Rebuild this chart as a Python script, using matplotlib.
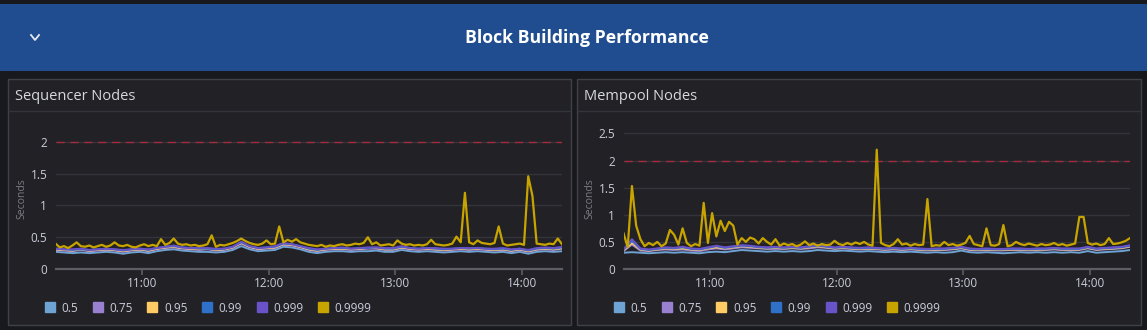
import numpy as np
import matplotlib.pyplot as plt
import matplotlib.dates as mdates
from matplotlib.lines import Line2D
from matplotlib.patches import Rectangle

plt.rcParams['font.family'] = ['Open Sans', 'DejaVu Sans']

# ---- data ----
start = np.datetime64('2024-05-01T10:19')
minutes_fine = np.arange(0, 241, 2)     # 0.9999 series, every 2 min
minutes_coarse = np.arange(0, 241, 4)   # lower quantiles, every 4 min

quantiles = ['0.5', '0.75', '0.95', '0.99', '0.999', '0.9999']
colors = ['#6fa3d3', '#9a80d0', '#ffcb65', '#2f70c8', '#6a52c8', '#c8a400']

seq_p50 = [0.27, 0.26, 0.25, 0.26, 0.25, 0.26, 0.27, 0.26, 0.24, 0.26,
           0.27, 0.25, 0.28, 0.30, 0.31, 0.29, 0.28, 0.27, 0.27, 0.26,
           0.27, 0.30, 0.36, 0.31, 0.28, 0.29, 0.30, 0.35, 0.34, 0.31,
           0.27, 0.25, 0.27, 0.28, 0.28, 0.27, 0.28, 0.28, 0.29, 0.27,
           0.27, 0.30, 0.28, 0.27, 0.28, 0.27, 0.26, 0.27, 0.28, 0.27,
           0.28, 0.27, 0.26, 0.27, 0.25, 0.27, 0.24, 0.27, 0.28, 0.27,
           0.28]
seq_p75 = [0.30, 0.29, 0.28, 0.30, 0.28, 0.29, 0.30, 0.29, 0.27, 0.29,
           0.30, 0.28, 0.31, 0.33, 0.34, 0.32, 0.31, 0.30, 0.31, 0.29,
           0.30, 0.33, 0.40, 0.34, 0.31, 0.32, 0.33, 0.38, 0.37, 0.34,
           0.30, 0.28, 0.30, 0.31, 0.31, 0.30, 0.31, 0.32, 0.32, 0.30,
           0.30, 0.33, 0.31, 0.30, 0.31, 0.30, 0.29, 0.30, 0.31, 0.30,
           0.31, 0.30, 0.29, 0.30, 0.28, 0.30, 0.27, 0.30, 0.31, 0.30,
           0.32]
seq_p95 = [0.31, 0.30, 0.29, 0.31, 0.29, 0.30, 0.31, 0.30, 0.28, 0.30,
           0.31, 0.29, 0.32, 0.34, 0.35, 0.33, 0.32, 0.31, 0.32, 0.30,
           0.31, 0.34, 0.41, 0.35, 0.32, 0.33, 0.34, 0.39, 0.38, 0.35,
           0.31, 0.29, 0.31, 0.32, 0.32, 0.31, 0.32, 0.33, 0.33, 0.31,
           0.31, 0.34, 0.32, 0.31, 0.32, 0.31, 0.30, 0.31, 0.32, 0.31,
           0.32, 0.31, 0.30, 0.31, 0.29, 0.31, 0.28, 0.31, 0.32, 0.31,
           0.33]
seq_p99 = [0.32, 0.31, 0.30, 0.31, 0.30, 0.31, 0.32, 0.31, 0.29, 0.31,
           0.32, 0.30, 0.33, 0.35, 0.36, 0.34, 0.33, 0.32, 0.32, 0.31,
           0.32, 0.35, 0.42, 0.36, 0.33, 0.34, 0.35, 0.40, 0.39, 0.36,
           0.32, 0.30, 0.32, 0.33, 0.33, 0.32, 0.33, 0.33, 0.34, 0.32,
           0.32, 0.35, 0.33, 0.32, 0.33, 0.32, 0.31, 0.32, 0.33, 0.32,
           0.33, 0.32, 0.31, 0.32, 0.30, 0.32, 0.29, 0.32, 0.33, 0.32,
           0.34]
seq_p999 = [0.32, 0.31, 0.31, 0.32, 0.30, 0.31, 0.32, 0.31, 0.30, 0.31,
            0.32, 0.31, 0.33, 0.35, 0.37, 0.34, 0.33, 0.33, 0.33, 0.32,
            0.32, 0.35, 0.43, 0.36, 0.33, 0.34, 0.36, 0.41, 0.39, 0.36,
            0.33, 0.31, 0.32, 0.33, 0.34, 0.32, 0.33, 0.34, 0.34, 0.33,
            0.33, 0.36, 0.33, 0.32, 0.33, 0.33, 0.32, 0.32, 0.33, 0.33,
            0.33, 0.32, 0.32, 0.33, 0.31, 0.32, 0.30, 0.33, 0.34, 0.33,
            0.35]
seq_p9999 = [0.40, 0.34, 0.36, 0.33, 0.37, 0.42, 0.36, 0.35, 0.37, 0.34,   # 0-18
             0.36, 0.38, 0.35, 0.37, 0.42, 0.37, 0.36, 0.38, 0.35, 0.34,   # 20-38
             0.37, 0.39, 0.36, 0.38, 0.36, 0.47, 0.38, 0.41, 0.48, 0.40,   # 40-58
             0.38, 0.39, 0.37, 0.38, 0.36, 0.37, 0.39, 0.53, 0.35, 0.38,   # 60-78
             0.37, 0.39, 0.41, 0.44, 0.48, 0.44, 0.41, 0.39, 0.38, 0.40,   # 80-98
             0.45, 0.39, 0.40, 0.67, 0.42, 0.46, 0.43, 0.47, 0.42, 0.40,   # 100-118
             0.38, 0.37, 0.36, 0.38, 0.35, 0.37, 0.36, 0.38, 0.39, 0.37,   # 120-138
             0.38, 0.40, 0.39, 0.41, 0.50, 0.39, 0.42, 0.37, 0.38, 0.39,   # 140-158
             0.37, 0.45, 0.40, 0.38, 0.39, 0.37, 0.38, 0.37, 0.39, 0.46,   # 160-178
             0.39, 0.38, 0.37, 0.38, 0.40, 0.51, 0.42, 1.20, 0.42, 0.39,   # 180-198
             0.45, 0.41, 0.40, 0.39, 0.41, 0.67, 0.40, 0.37, 0.38, 0.39,   # 200-218
             0.40, 0.38, 1.46, 1.15, 0.40, 0.39, 0.38, 0.40, 0.39, 0.48,   # 220-238
             0.39]                                                         # 240

mem_p50 = [0.30, 0.31, 0.30, 0.29, 0.30, 0.31, 0.30, 0.31, 0.30, 0.29,
           0.31, 0.32, 0.31, 0.33, 0.35, 0.34, 0.33, 0.32, 0.33, 0.32,
           0.33, 0.32, 0.33, 0.35, 0.34, 0.33, 0.34, 0.33, 0.32, 0.33,
           0.32, 0.31, 0.32, 0.31, 0.32, 0.31, 0.30, 0.31, 0.30, 0.31,
           0.34, 0.31, 0.30, 0.31, 0.30, 0.29, 0.30, 0.31, 0.30, 0.31,
           0.30, 0.31, 0.30, 0.31, 0.30, 0.33, 0.30, 0.31, 0.32, 0.33,
           0.35]
mem_p75 = [0.33, 0.45, 0.34, 0.33, 0.35, 0.36, 0.35, 0.36, 0.34, 0.33,
           0.36, 0.38, 0.36, 0.38, 0.40, 0.39, 0.38, 0.37, 0.37, 0.37,
           0.38, 0.37, 0.38, 0.40, 0.39, 0.37, 0.38, 0.37, 0.36, 0.37,
           0.36, 0.35, 0.36, 0.35, 0.36, 0.35, 0.34, 0.35, 0.35, 0.36,
           0.38, 0.35, 0.34, 0.35, 0.34, 0.34, 0.35, 0.35, 0.34, 0.35,
           0.35, 0.36, 0.35, 0.35, 0.35, 0.38, 0.35, 0.36, 0.37, 0.38,
           0.41]
mem_p95 = [0.34, 0.48, 0.36, 0.34, 0.36, 0.38, 0.37, 0.38, 0.36, 0.35,
           0.38, 0.40, 0.38, 0.40, 0.42, 0.41, 0.39, 0.38, 0.39, 0.38,
           0.39, 0.38, 0.40, 0.42, 0.40, 0.38, 0.39, 0.38, 0.37, 0.38,
           0.37, 0.36, 0.37, 0.36, 0.37, 0.36, 0.35, 0.36, 0.36, 0.37,
           0.39, 0.36, 0.35, 0.36, 0.35, 0.35, 0.36, 0.36, 0.35, 0.36,
           0.36, 0.37, 0.36, 0.36, 0.36, 0.39, 0.36, 0.37, 0.38, 0.39,
           0.42]
mem_p99 = [0.35, 0.52, 0.37, 0.35, 0.37, 0.39, 0.38, 0.40, 0.37, 0.36,
           0.39, 0.42, 0.39, 0.41, 0.43, 0.42, 0.40, 0.39, 0.40, 0.39,
           0.40, 0.39, 0.41, 0.43, 0.41, 0.39, 0.40, 0.39, 0.38, 0.39,
           0.38, 0.37, 0.38, 0.37, 0.38, 0.37, 0.36, 0.37, 0.37, 0.38,
           0.40, 0.37, 0.36, 0.37, 0.36, 0.36, 0.37, 0.37, 0.36, 0.37,
           0.37, 0.38, 0.37, 0.37, 0.37, 0.40, 0.37, 0.38, 0.39, 0.40,
           0.43]
mem_p999 = [0.36, 0.55, 0.38, 0.36, 0.38, 0.40, 0.39, 0.41, 0.38, 0.37,
            0.40, 0.43, 0.40, 0.42, 0.44, 0.43, 0.41, 0.40, 0.41, 0.40,
            0.41, 0.40, 0.42, 0.44, 0.42, 0.40, 0.41, 0.40, 0.39, 0.40,
            0.39, 0.38, 0.39, 0.38, 0.39, 0.38, 0.37, 0.38, 0.38, 0.39,
            0.41, 0.38, 0.37, 0.38, 0.37, 0.37, 0.38, 0.38, 0.37, 0.38,
            0.38, 0.39, 0.38, 0.38, 0.38, 0.41, 0.38, 0.39, 0.40, 0.41,
            0.44]
mem_p9999 = [0.66, 0.40, 1.53, 0.80, 0.55, 0.42, 0.48, 0.44, 0.50, 0.42,   # 0-18
             0.47, 0.72, 0.63, 0.45, 0.75, 0.48, 0.42, 0.46, 0.43, 1.22,   # 20-38
             0.48, 1.03, 0.60, 0.89, 0.70, 0.87, 0.80, 0.45, 0.57, 0.50,   # 40-58
             0.58, 0.55, 0.47, 0.57, 0.50, 0.45, 0.55, 0.43, 0.47, 0.44,   # 60-78
             0.46, 0.42, 0.45, 0.51, 0.44, 0.47, 0.43, 0.46, 0.44, 0.45,   # 80-98
             0.52, 0.46, 0.44, 0.48, 0.45, 0.49, 0.46, 0.50, 0.45, 0.43,   # 100-118
             2.20, 0.48, 0.44, 0.42, 0.46, 0.55, 0.45, 0.47, 0.43, 0.46,   # 120-138
             0.44, 0.45, 1.29, 0.42, 0.44, 0.43, 0.50, 0.44, 0.46, 0.43,   # 140-158
             0.45, 0.48, 0.61, 0.46, 0.44, 0.42, 0.75, 0.44, 0.43, 0.46,   # 160-178
             0.81, 0.42, 0.44, 0.50, 0.46, 0.44, 0.47, 0.45, 0.43, 0.46,   # 180-198
             0.44, 0.45, 0.48, 0.44, 0.46, 0.43, 0.45, 0.47, 0.96, 0.96,   # 200-218
             0.48, 0.45, 0.47, 0.44, 0.46, 0.57, 0.46, 0.47, 0.49, 0.52,   # 220-238
             0.57]                                                         # 240

panels = [
    ('Sequencer Nodes', [seq_p50, seq_p75, seq_p95, seq_p99, seq_p999, seq_p9999], 2.22, [0, 0.5, 1, 1.5, 2]),
    ('Mempool Nodes', [mem_p50, mem_p75, mem_p95, mem_p99, mem_p999, mem_p9999], 2.6, [0, 0.5, 1, 1.5, 2, 2.5]),
]
threshold = 2

# ---- styling ----
W, H = 1147, 330
BG = '#18191d'
PANEL = '#212126'
HEADER = '#1f4d8f'
TXT = '#ccccdc'


def fx(px):
    return px / W


def fy(py):
    return 1 - py / H


fig = plt.figure(figsize=(W / 100, H / 100), dpi=100, facecolor=BG)

# header band
fig.patches.append(Rectangle((0, fy(71)), 1, (71 - 4) / H, transform=fig.transFigure,
                             facecolor=HEADER, edgecolor='none', zorder=-5))
fig.text(fx(587), fy(38), 'Block Building Performance', ha='center', va='center',
         color='white', fontsize=12.7, fontweight='bold')
fig.lines.append(Line2D([fx(31), fx(35), fx(39)], [fy(35), fy(40), fy(35)],
                        transform=fig.transFigure, color='#e8e8f0', lw=1.3))

t_fine = start + minutes_fine.astype('timedelta64[m]')
t_coarse = start + minutes_coarse.astype('timedelta64[m]')

panel_x = [(8, 571), (577, 1141)]
axes_x = [(55.5, 562), (623.5, 1130)]

for (title, series, ytop, yticks), (px0, px1), (ax0, ax1) in zip(panels, panel_x, axes_x):
    fig.patches.append(Rectangle((fx(px0), fy(325)), (px1 - px0) / W, (325 - 79) / H,
                                 transform=fig.transFigure, facecolor=PANEL,
                                 edgecolor='#404148', lw=1, zorder=-4))
    fig.lines.append(Line2D([fx(px0 + 1), fx(px1 - 1)], [fy(111), fy(111)],
                            transform=fig.transFigure, color='#34353b', lw=1))
    fig.text(fx(px0 + 7), fy(97), title, ha='left', va='center', color='#d8d9da', fontsize=10.5)

    ax = fig.add_axes([fx(ax0), fy(269), (ax1 - ax0) / W, (269 - 128) / H])
    ax.set_facecolor('none')
    for i, (vals, q, c) in enumerate(zip(series, quantiles, colors)):
        t = t_fine if i == len(series) - 1 else t_coarse
        ax.plot(t, vals, color=c, lw=1.6 if i == len(series) - 1 else 1.4, label=q,
                zorder=3 + i)
    ax.axhline(threshold, color='#a52a3c', lw=1, ls=(0, (6, 4)), zorder=2)

    ax.set_xlim(t_fine[0], t_fine[-1])
    ax.set_ylim(0, ytop)
    ax.set_yticks(yticks)
    ax.set_yticklabels([f'{v:g}' for v in yticks])
    ax.xaxis.set_major_locator(mdates.HourLocator())
    ax.xaxis.set_major_formatter(mdates.DateFormatter('%H:%M'))
    ax.grid(axis='y', color='#34353b', lw=1, zorder=1)
    ax.grid(axis='x', visible=False)
    for s in ['top', 'right', 'left']:
        ax.spines[s].set_visible(False)
    ax.spines['bottom'].set_color('#5d5e64')
    ax.spines['bottom'].set_linewidth(1.6)
    ax.tick_params(axis='x', colors='#5d5e64', length=4, width=1.2, labelcolor=TXT, labelsize=8.5, pad=2)
    ax.tick_params(axis='y', length=0, labelcolor=TXT, labelsize=8.5, pad=6)
    ax.set_ylabel('Seconds', color='#7b7c82', fontsize=7.5, labelpad=2)

    handles = [Line2D([], [], ls='none', marker='s', markersize=7.5, color=c) for c in colors]
    ax.legend(handles, quantiles, loc='center left', bbox_to_anchor=(fx(px0 + 37), fy(308)),
              bbox_transform=fig.transFigure, ncol=6, frameon=False, fontsize=8.5,
              labelcolor=TXT, handlelength=0.8, handletextpad=0.6, columnspacing=1.25,
              borderpad=0, borderaxespad=0)

fig.savefig('out.png', dpi=100, facecolor=BG)
